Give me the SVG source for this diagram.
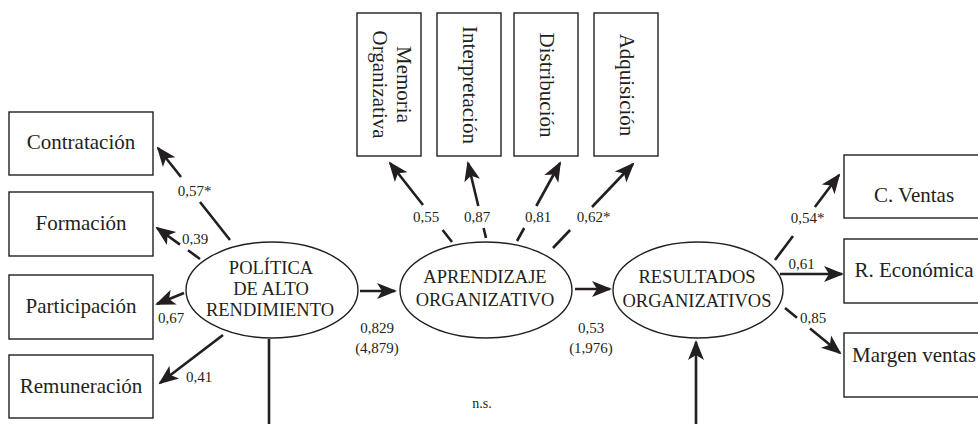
<svg xmlns="http://www.w3.org/2000/svg" width="978" height="424" viewBox="0 0 978 424">
<style>
.box{fill:#fff;stroke:#231f20;stroke-width:1.4}
.ell{fill:#fff;stroke:#231f20;stroke-width:1.4}
.bt{font-family:"Liberation Serif",serif;font-size:21px;fill:#231f20;text-anchor:middle}
.et{font-family:"Liberation Serif",serif;font-size:18.5px;fill:#231f20;text-anchor:middle}
.lb{font-family:"Liberation Serif",serif;font-size:15px;fill:#231f20;text-anchor:middle}
.cn{fill:none;stroke:#231f20;stroke-width:2.6}
</style>
<defs>
<marker id="ah" markerUnits="userSpaceOnUse" viewBox="-22 -10 26 20" refX="0" refY="0" markerWidth="26" markerHeight="20" orient="auto">
<path d="M2,0 L-18,-8 L-13,0 L-18,8 Z" fill="#231f20"/>
</marker>
</defs>
<rect width="978" height="424" fill="#fff"/>

<g id="contratacion"><rect class="box" x="9" y="112" width="144" height="63"/><text class="bt" x="81" y="149">Contratación</text></g>
<g id="formacion"><rect class="box" x="9" y="192" width="144" height="64"/><text class="bt" x="81" y="230">Formación</text></g>
<g id="participacion"><rect class="box" x="9" y="275" width="144" height="64"/><text class="bt" x="81" y="313">Participación</text></g>
<g id="remuneracion"><rect class="box" x="9" y="355" width="144" height="63"/><text class="bt" x="81" y="393">Remuneración</text></g>

<g id="memoria"><rect class="box" x="357" y="13" width="64" height="143"/>
<text class="bt" transform="translate(397,84.5) rotate(90)">Memoria</text>
<text class="bt" transform="translate(373,84.5) rotate(90)">Organizativa</text></g>
<g id="interpretacion"><rect class="box" x="437" y="13" width="64" height="143"/><text class="bt" transform="translate(463,85) rotate(90)">Interpretación</text></g>
<g id="distribucion"><rect class="box" x="514" y="13" width="64" height="143"/><text class="bt" transform="translate(540,85) rotate(90)">Distribución</text></g>
<g id="adquisicion"><rect class="box" x="594" y="13" width="64" height="143"/><text class="bt" transform="translate(620,85) rotate(90)">Adquisición</text></g>

<g id="cventas"><rect class="box" x="844" y="155" width="140" height="63"/><text class="bt" x="914" y="202">C. Ventas</text></g>
<g id="reconomica"><rect class="box" x="844" y="239" width="140" height="64"/><text class="bt" x="914" y="277">R. Económica</text></g>
<g id="margen"><rect class="box" x="844" y="333" width="140" height="64"/><text class="bt" x="914" y="362">Margen ventas</text></g>

<g id="politica"><ellipse class="ell" cx="272" cy="290" rx="86" ry="48"/>
<text class="et" x="271" y="274">POLÍTICA</text><text class="et" x="271" y="295">DE ALTO</text><text class="et" x="270" y="316">RENDIMIENTO</text></g>
<g id="aprendizaje"><ellipse class="ell" cx="486" cy="290" rx="86" ry="48"/>
<text class="et" x="485" y="283">APRENDIZAJE</text><text class="et" x="485" y="306">ORGANIZATIVO</text></g>
<g id="resultados"><ellipse class="ell" cx="698" cy="290" rx="85" ry="48"/>
<text class="et" x="697" y="283">RESULTADOS</text><text class="et" x="697" y="307">ORGANIZATIVOS</text></g>

<g id="connectors">
<path class="cn" d="M230,240 L200,202 M181,177 L158,148" marker-end="url(#ah)"/>
<path class="cn" d="M200,259 L188,250.3 M180,244.6 L157,228" marker-end="url(#ah)"/>
<path class="cn" d="M184,293 L157,304" marker-end="url(#ah)"/>
<path class="cn" d="M223,335 L160,383" marker-end="url(#ah)"/>
<path class="cn" d="M452,242 L442.6,230 M423,205 L390,163" marker-end="url(#ah)"/>
<path class="cn" d="M486,238 L483.6,228 M478.3,206 L468,163" marker-end="url(#ah)"/>
<path class="cn" d="M517,241 L524.2,228 M536.3,206 L560,163" marker-end="url(#ah)"/>
<path class="cn" d="M553,248 L570.1,230 M592,207 L633,164" marker-end="url(#ah)"/>
<path class="cn" d="M775,260 L793,236 M814.9,207 L839,175" marker-end="url(#ah)"/>
<path class="cn" d="M780,274 L842,274" marker-end="url(#ah)"/>
<path class="cn" d="M785,308 L797,317.8 M810,328.5 L840,353" marker-end="url(#ah)"/>
<path class="cn" d="M360,291 L395,291" marker-end="url(#ah)"/>
<path class="cn" d="M575,289 L610,289" marker-end="url(#ah)"/>
<path class="cn" d="M269,339 L269,424"/>
<path class="cn" d="M696,424 L696,342" marker-end="url(#ah)"/>
</g>

<g id="labels">
<text class="lb" x="194.5" y="196">0,57*</text>
<text class="lb" x="195" y="244">0,39</text>
<text class="lb" x="171" y="323">0,67</text>
<text class="lb" x="199" y="382">0,41</text>
<text class="lb" x="426" y="222">0,55</text>
<text class="lb" x="477" y="222">0,87</text>
<text class="lb" x="538" y="222">0,81</text>
<text class="lb" x="593.5" y="222">0,62*</text>
<text class="lb" x="807.5" y="223">0,54*</text>
<text class="lb" x="801.5" y="269">0,61</text>
<text class="lb" x="813" y="323">0,85</text>
<text class="lb" x="377" y="333">0,829</text>
<text class="lb" x="377" y="353">(4,879)</text>
<text class="lb" x="591" y="333">0,53</text>
<text class="lb" x="591" y="353">(1,976)</text>
<text class="lb" x="482" y="408" style="font-size:14px">n.s.</text>
</g>
</svg>
